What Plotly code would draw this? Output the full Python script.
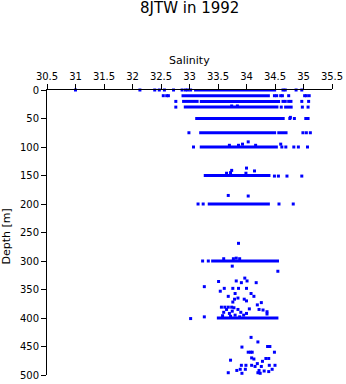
import plotly.graph_objects as go

# Continuous dense rows of samples: (depth, salinity start, salinity end)
seg_depth = [0, 10, 20, 20, 30, 30, 50, 75, 75, 100, 150, 200, 300, 400]
seg_s0 = [33.08, 32.86, 32.87, 33.18, 32.90, 34.66, 33.10, 33.17, 34.54, 33.18, 33.25, 33.32, 33.38, 33.48]
seg_s1 = [34.52, 34.41, 33.16, 34.59, 34.56, 34.81, 34.67, 34.52, 34.72, 34.55, 34.42, 34.41, 34.57, 34.56]

# Individual samples
pt_sal = [
    31.0, 32.13, 32.39, 32.47, 32.56, 32.72, 32.87, 32.93, 32.97, 33.02, 34.64, 34.68, 34.87, 34.97,
    32.54, 32.60, 32.63, 34.49, 34.53, 34.60, 34.63, 34.74, 35.02, 35.05, 35.10,
    32.76, 34.64, 34.68, 34.74, 34.78, 34.97, 35.09,
    32.76, 34.61, 34.98, 35.08, 33.74, 33.84,
    34.76, 34.84, 35.04, 35.08, 34.77,
    32.99, 34.99, 35.05, 35.12,
    33.07, 34.62, 34.69, 34.83, 34.91, 35.07, 33.70, 33.86, 33.93, 34.03, 34.16, 34.60,
    34.49, 34.56, 34.71, 34.97, 33.65, 33.72, 33.74, 33.99, 34.00, 34.14,
    33.15, 33.24, 34.57, 34.82, 33.68, 34.03,
    33.23, 33.33, 33.60, 33.77, 33.82, 33.88, 33.86, 33.75, 34.55,
    33.97, 34.01, 33.51, 33.82, 33.91, 34.17, 33.26, 33.61, 33.76, 33.86, 34.00, 33.54,
    33.80, 34.08, 33.68, 34.13, 33.85, 33.79, 33.96, 34.00, 33.76, 34.26, 34.19, 34.05,
    33.56, 33.62, 33.68, 33.74, 34.22, 34.29, 34.36, 34.36, 33.02, 33.26,
    33.60, 33.65, 33.70, 33.75, 33.80, 33.85, 33.90, 33.95, 33.72, 33.88, 33.78, 34.00, 33.58,
    34.08, 34.20, 33.92, 34.41, 34.37, 34.03, 34.07, 34.10, 34.49, 34.09, 34.13, 34.34, 34.39,
    33.72, 34.28, 34.19, 33.91, 33.99, 34.09, 34.15, 34.26, 34.40, 34.50, 33.89, 33.98, 33.83,
    34.22, 34.31, 34.45, 33.68, 33.92, 34.20, 34.24, 34.39,
]
pt_depth = [
    0, 0, 0, 0, 0, 0, 0, 0, 0, 0, 0, 0, 0, 0,
    10, 10, 10, 10, 10, 10, 10, 10, 10, 10, 10,
    20, 20, 20, 20, 20, 20, 20,
    30, 30, 30, 30, 28, 28,
    50, 50, 50, 50, 48,
    75, 75, 75, 75,
    100, 100, 100, 100, 100, 100, 97, 97, 95, 91, 97, 95,
    151, 151, 151, 151, 146, 145, 141, 146, 137, 142,
    200, 200, 200, 200, 185, 186,
    300, 300, 296, 296, 295, 296, 269, 309, 318,
    330, 335, 336, 335, 338, 338, 345, 348, 348, 348, 348, 353,
    357, 357, 362, 362, 365, 367, 367, 370, 372, 373, 377, 384,
    381, 381, 381, 381, 385, 386, 389, 393, 401, 398,
    390, 385, 392, 388, 395, 385, 390, 395, 397, 398, 382, 392, 396,
    434, 442, 451, 450, 450, 460, 460, 460, 460, 470, 472, 471, 471,
    474, 476, 480, 483, 483, 483, 485, 485, 483, 483, 490, 490, 492,
    492, 493, 490, 496, 497, 496, 497, 494,
]

x_ticks = [30.5, 31, 31.5, 32, 32.5, 33, 33.5, 34, 34.5, 35, 35.5]
y_ticks = [0, 50, 100, 150, 200, 250, 300, 350, 400, 450, 500]

seg_x, seg_y = [], []
for d, a, b in zip(seg_depth, seg_s0, seg_s1):
    seg_x += [a, b, None]
    seg_y += [d, d, None]

BLUE = "#0000ff"
fig = go.Figure()
fig.add_trace(go.Scatter(x=seg_x, y=seg_y, mode="lines",
                         line=dict(color=BLUE, width=3), cliponaxis=False,
                         hoverinfo="skip", showlegend=False))
fig.add_trace(go.Scatter(x=pt_sal, y=pt_depth, mode="markers",
                         marker=dict(symbol="square", size=3, color=BLUE, line=dict(width=0)),
                         cliponaxis=False, showlegend=False))

font = dict(family="DejaVu Sans, sans-serif", color="black")
fig.update_layout(
    width=346, height=384,
    margin=dict(l=47, r=14, t=90, b=9, autoexpand=False),
    paper_bgcolor="white", plot_bgcolor="white",
    font=dict(**font, size=10),
    showlegend=False,
    xaxis=dict(side="top", range=[30.5, 35.5], tickvals=x_ticks,
               ticktext=[("%g" % v) for v in x_ticks],
               showline=True, linecolor="black", linewidth=1,
               ticks="outside", ticklen=5, tickcolor="black", automargin=False,
               showgrid=False, zeroline=False, tickfont=dict(size=10)),
    yaxis=dict(range=[500, 0], tickvals=y_ticks,
               showline=True, linecolor="black", linewidth=1,
               ticks="outside", ticklen=5, tickcolor="black", automargin=False,
               showgrid=False, zeroline=False, tickfont=dict(size=10)),
    annotations=[
        dict(text="8JTW in 1992", xref="paper", yref="paper", x=0.5, y=1 + (90 - 8) / 285,
             showarrow=False, xanchor="center", yanchor="middle", font=dict(size=15)),
        dict(text="Salinity", xref="paper", yref="paper", x=0.5, y=1 + (90 - 61) / 285,
             showarrow=False, xanchor="center", yanchor="middle", font=dict(size=11)),
        dict(text="Depth [m]", xref="paper", yref="paper", x=(5.5 - 47) / 285, y=(375 - 237) / 285,
             showarrow=False, xanchor="center", yanchor="middle", textangle=-90, font=dict(size=11)),
    ],
)
fig.write_html("out.html")
